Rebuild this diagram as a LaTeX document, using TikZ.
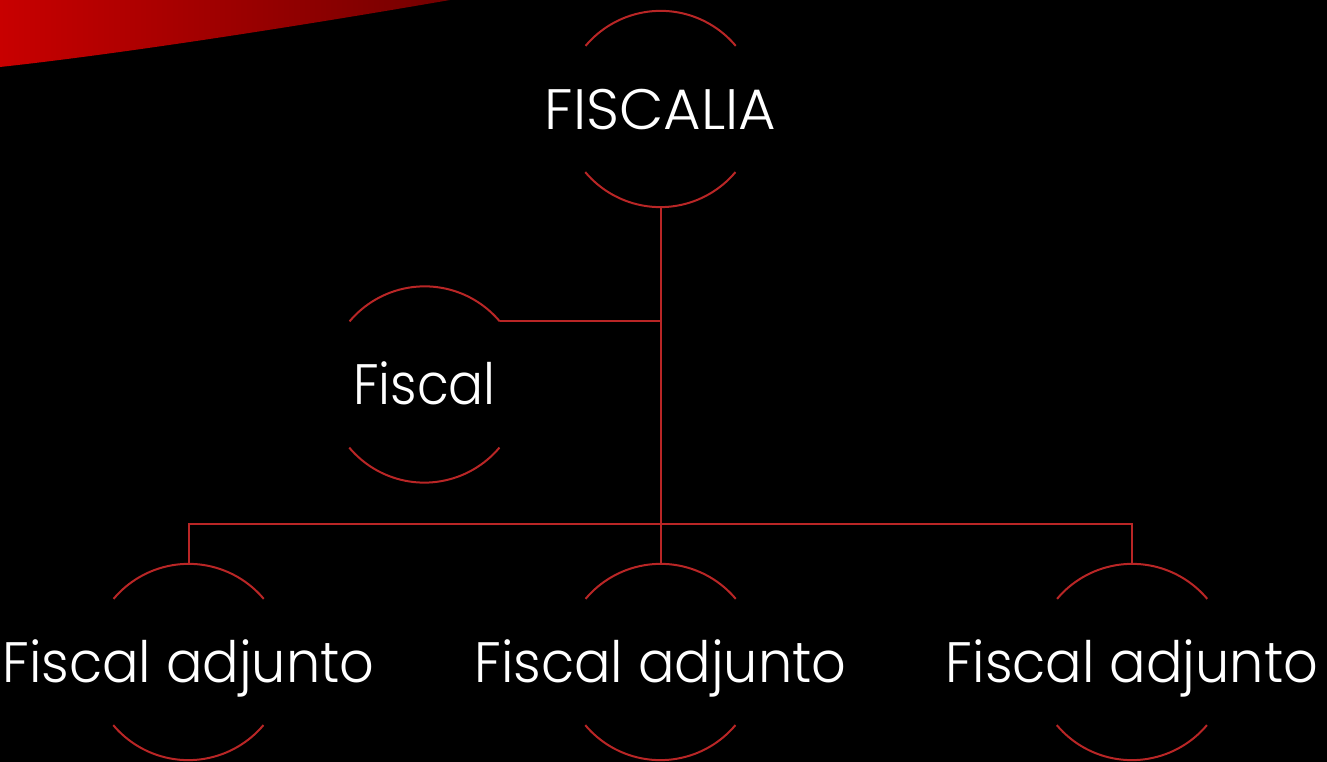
\documentclass[tikz,border=0pt]{standalone}
\usepackage{fontspec}
\setmainfont{Poppins}[UprightFont=* Light]
\definecolor{lnred}{RGB}{185,38,38}
\definecolor{swl}{RGB}{200,0,0}
\definecolor{swr}{RGB}{115,0,0}
\begin{document}
\begin{tikzpicture}[x=1pt,y=1pt,
  unit/.style={circle, minimum size=196pt, inner sep=0pt},
  ln/.style={draw=lnred, line width=2pt},
  txt/.style={text=white, font=\fontsize{57}{60}\selectfont, inner sep=0pt, anchor=base}]
\fill[black] (0,0) rectangle (1327,762);
\useasboundingbox (0,0) rectangle (1327,762);
% red swoosh
\shade[left color=swl, right color=swr] (0,762) -- (450,762) .. controls (300,736) and (120,708) .. (0,695) -- cycle;
% units
\node[unit] (f)  at (660.5,653) {};
\node[unit] (fs) at (424.5,377.5) {};
\node[unit] (a1) at (188.5,100) {};
\node[unit] (a2) at (660.5,100) {};
\node[unit] (a3) at (1132,100) {};
\foreach \n in {f,fs,a1,a2,a3}{
  \draw[ln] (\n.40) arc[start angle=40, end angle=140, radius=98pt];
  \draw[ln] (\n.220) arc[start angle=220, end angle=320, radius=98pt];
}
% texts
\node[txt] (ft)  at ([yshift=-20.5pt]f.center) {\scalebox{1.01}[1]{FISCALIA}};
\node[txt] (fst) at ([yshift=-20.5pt]fs.center) {\scalebox{0.91}[1]{Fiscal}};
\node[txt] (a1t) at ([yshift=-20.5pt]a1.center) {\scalebox{0.95}[1]{Fiscal adjunto}};
\node[txt] (a2t) at ([yshift=-20.5pt]a2.center) {\scalebox{0.95}[1]{Fiscal adjunto}};
\node[txt] (a3t) at ([yshift=-20.5pt]a3.center) {\scalebox{0.95}[1]{Fiscal adjunto}};
% connectors
\draw[ln] (f.south) -- (a2.north);
\draw[ln] (fs.40) -- (fs.40 -| f.south);
\draw[ln] (a1.north) -- ++(0,40) -| (a3.north);
\end{tikzpicture}
\end{document}
